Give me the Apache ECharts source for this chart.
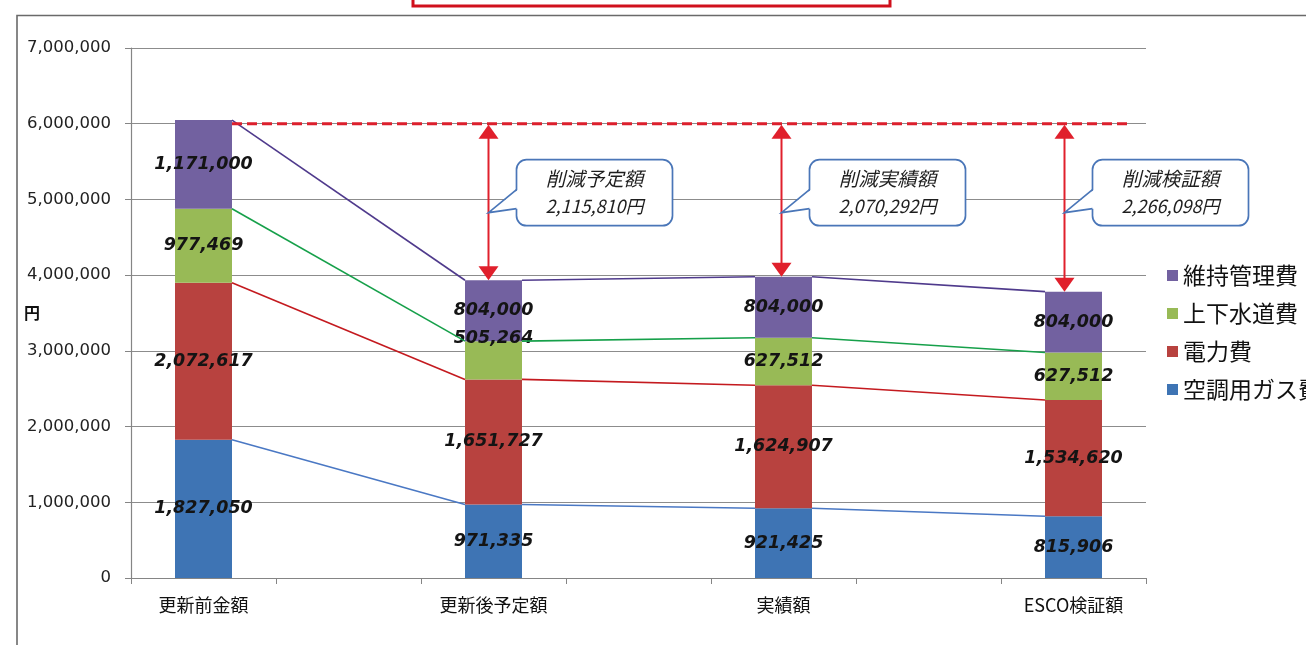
<!DOCTYPE html>
<html><head><meta charset="utf-8">
<script src="https://cdn.jsdelivr.net/npm/echarts@6/dist/echarts.min.js"></script>
<style>html,body{margin:0;padding:0;background:#fff}#c{width:1306px;height:645px}</style>
</head><body><div id="c"></div>
<script>
// ---- data ----
const categories = ['更新前金額', '更新後予定額', '実績額', 'ESCO検証額'];
const seriesNames = ['空調用ガス費', '電力費', '上下水道費', '維持管理費'];
const gasCost = [1827050, 971335, 921425, 815906];
const powerCost = [2072617, 1651727, 1624907, 1534620];
const waterCost = [977469, 505264, 627512, 627512];
const maintCost = [1171000, 804000, 804000, 804000];
const reductionTitles = ['削減予定額', '削減実績額', '削減検証額'];
const reductionAmounts = ['2,115,810円', '2,070,292円', '2,266,098円'];
const dashLevel = 6000000;
const yMin = 0, yMax = 7000000, yStep = 1000000;

// ---- styles ----
const barColors = ['#3e74b4', '#b8423f', '#98ba56', '#7261a0'];
const lineColors = ['#4a78c4', '#c41a1f', '#16a04a', '#4f3a8c'];
const BAR_W = 57, HALF = BAR_W / 2;
const arrowShift = [-5, -2, -9];
const labelFont = 'DejaVu Sans';
const jpFont = '"Noto Sans CJK JP"';

// ---- derived ----
const stacks = [gasCost, powerCost, waterCost, maintCost];
const tops = stacks.map((_, s) => categories.map((__, i) => {
  let t = 0; for (let k = 0; k <= s; k++) t += stacks[k][i]; return t;
}));
const totals = tops[3];
const slotCats = [];
categories.forEach((c, i) => { slotCats.push(c); if (i < categories.length - 1) slotCats.push(''); });
const toSlots = arr => { const o = []; arr.forEach((v, i) => { o.push(v); if (i < arr.length - 1) o.push(null); }); return o; };
const fmt = v => Number(v).toLocaleString('en-US');

const barSeries = stacks.map((arr, s) => ({
  name: seriesNames[s], type: 'bar', stack: 'total', barWidth: BAR_W,
  itemStyle: { color: barColors[s] },
  label: {
    show: true, position: 'inside', color: '#141414', fontSize: 17.5,
    fontWeight: 'bold', fontStyle: 'italic', fontFamily: labelFont,
    formatter: p => (p.value == null ? '' : fmt(p.value))
  },
  data: toSlots(arr).map((v, idx) => (s === 2 && idx === 2) ? { value: v, label: { offset: [0, -22] } } : v),
  z: 2
}));

const connectorSeries = {
  type: 'custom', silent: true, z: 3,
  data: [0, 1, 2].map(k => [2 * k, 0]), encode: { x: 0, y: 1 },
  renderItem: (params, api) => {
    const k = params.dataIndex;
    return {
      type: 'group',
      children: stacks.map((_, s) => {
        const p1 = api.coord([2 * k, tops[s][k]]);
        const p2 = api.coord([2 * k + 2, tops[s][k + 1]]);
        return { type: 'line', shape: { x1: p1[0] + HALF, y1: p1[1], x2: p2[0] - HALF, y2: p2[1] },
          style: { stroke: lineColors[s], lineWidth: 1.6 } };
      })
    };
  }
};

const dashSeries = {
  type: 'custom', silent: true, z: 5,
  data: [[0, dashLevel]], encode: { x: 0, y: 1 },
  renderItem: (params, api) => {
    const a = api.coord([0, dashLevel]);
    const b = api.coord([6, dashLevel]);
    return { type: 'line', shape: { x1: a[0] + HALF, y1: a[1], x2: b[0] + HALF + 30, y2: a[1] },
      style: { stroke: '#dc1f2c', lineWidth: 3, lineDash: [10, 5] } };
  }
};

const annotSeries = {
  type: 'custom', silent: true, z: 6,
  data: [1, 2, 3].map(i => [2 * i, totals[i]]), encode: { x: 0, y: 1 },
  renderItem: (params, api) => {
    const j = params.dataIndex, i = j + 1;
    const pTop = api.coord([2 * i, dashLevel]);
    const pBar = api.coord([2 * i, totals[i]]);
    const ax = pTop[0] + arrowShift[j], y0 = pTop[1], y1 = pBar[1];
    const red = '#e0202c', blue = '#4a76b8';
    const L = ax + 28, T = y0 + 36, W = 156, H = 66;
    const tip = [ax, y0 + 89];
    return {
      type: 'group',
      children: [
        { type: 'line', shape: { x1: ax, y1: y0 + 8, x2: ax, y2: y1 - 8 }, style: { stroke: red, lineWidth: 2 } },
        { type: 'polygon', shape: { points: [[ax, y0 + 1], [ax - 10, y0 + 15], [ax + 10, y0 + 15]] }, style: { fill: red } },
        { type: 'polygon', shape: { points: [[ax, y1], [ax - 10, y1 - 14], [ax + 10, y1 - 14]] }, style: { fill: red } },
        { type: 'rect', shape: { x: L, y: T, width: W, height: H, r: 10 }, style: { fill: '#fff', stroke: blue, lineWidth: 1.7 } },
        { type: 'polygon', shape: { points: [[L + 1.5, T + 30], tip, [L + 1.5, T + 49]] }, style: { fill: '#fff' } },
        { type: 'polyline', shape: { points: [[L, T + 30], tip, [L, T + 49]] }, style: { stroke: blue, lineWidth: 1.7, fill: null } },
        { type: 'text', style: { text: reductionTitles[j], x: L + W / 2, y: T + 19, align: 'center', verticalAlign: 'middle',
          fontSize: 19.5, fontStyle: 'italic', fontFamily: jpFont, fill: '#1e1e1e' } },
        { type: 'text', style: { text: reductionAmounts[j], x: L + W / 2, y: T + 46, align: 'center', verticalAlign: 'middle',
          fontSize: 18, fontStyle: 'italic', fontFamily: jpFont, fill: '#1e1e1e' } }
      ]
    };
  }
};

const chart = echarts.init(document.getElementById('c'), null, { renderer: 'canvas' });
chart.setOption({
  animation: false,
  backgroundColor: '#fff',
  grid: { left: 131, right: 160, top: 48, bottom: 67, containLabel: false },
  legend: {
    orient: 'vertical', left: 1162, top: 259, itemWidth: 11, itemHeight: 11, itemGap: 15,
    icon: 'rect', data: seriesNames.slice().reverse(),
    textStyle: { fontSize: 23, fontFamily: jpFont, color: '#111' }
  },
  xAxis: {
    type: 'category', data: slotCats, boundaryGap: true,
    axisLine: { lineStyle: { color: '#858585', width: 1.2 } },
    axisTick: { show: true, interval: 0, length: 6, lineStyle: { color: '#858585' } },
    axisLabel: { interval: 0, margin: 18, fontSize: 18, fontFamily: jpFont, color: '#111' }
  },
  yAxis: {
    type: 'value', min: yMin, max: yMax, interval: yStep,
    name: '円', nameLocation: 'middle', nameRotate: 0, nameGap: 91, nameMoveOverlap: false,
    nameTextStyle: { fontSize: 16, fontFamily: jpFont, color: '#111', fontWeight: 'bold', padding: [20, 0, 0, 0] },
    axisLine: { show: true, lineStyle: { color: '#858585', width: 1.2 } },
    axisTick: { show: true, length: 6, lineStyle: { color: '#858585' } },
    axisLabel: { margin: 20, fontSize: 16.5, fontFamily: labelFont, color: '#222', formatter: v => fmt(v) },
    splitLine: { lineStyle: { color: '#8c8c8c', width: 1.2 } }
  },
  graphic: [
    { type: 'polyline', shape: { points: [[17, 645], [17, 15.5], [1306, 15.5]] }, style: { stroke: '#6a6a6a', lineWidth: 1.6, fill: null }, silent: true },
    { type: 'rect', shape: { x: 413, y: -10, width: 477, height: 16 }, style: { fill: '#fff', stroke: '#d0101c', lineWidth: 3 }, silent: true }
  ],
  series: [...barSeries, connectorSeries, dashSeries, annotSeries]
});
</script>
</body></html>
